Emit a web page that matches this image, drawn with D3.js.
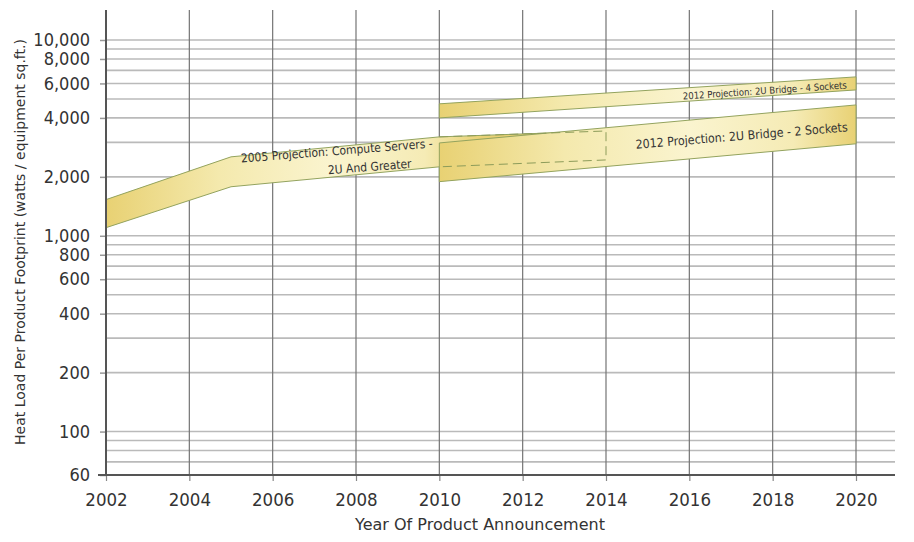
<!DOCTYPE html>
<html>
<head>
<meta charset="utf-8">
<script src="https://cdn.jsdelivr.net/npm/d3@7"></script>
<style>
  html, body { margin: 0; padding: 0; background: #fff; }
  svg { display: block; }
  text { font-family: "DejaVu Sans Condensed", "DejaVu Sans", sans-serif; font-stretch: condensed; fill: #333; }
  text.title { font-family: "DejaVu Sans", sans-serif; font-stretch: normal; }
</style>
</head>
<body>
<svg id="chart" width="914" height="542"></svg>
<script>
// Year tick labels on the x axis
const yearTicks = [2002, 2004, 2006, 2008, 2010, 2012, 2014, 2016, 2018, 2020];
// Labelled heat-load ticks on the log y axis
const loadTicks = [60, 100, 200, 400, 600, 800, 1000, 2000, 4000, 6000, 8000, 10000];

// 2005 projection: compute servers, 2U and greater
const computeYears = [2002, 2005, 2010, 2014];
const computeUpper = [1530, 2530, 3200, 3430];
const computeLower = [1100, 1780, 2250, 2440];

// 2012 projection: 2U bridge, 2 sockets
const bridge2Years = [2010, 2020];
const bridge2Upper = [2980, 4660];
const bridge2Lower = [1890, 2950];

// 2012 projection: 2U bridge, 4 sockets
const bridge4Years = [2010, 2020];
const bridge4Upper = [4720, 6480];
const bridge4Lower = [4000, 5560];

const svg = d3.select("#chart");
const plotLeft = 106, plotRight = 895, plotTop = 10, plotBottom = 475;

const x = d3.scaleLinear().domain([2002, 2020]).range([106, 856]);
const y = d3.scaleLog().domain([60, 10000]).range([475, 40]);

// log grid values: 1..9 times each decade inside the domain
const gridValues = [];
[10, 100, 1000].forEach(dec => {
  for (let m = 1; m <= 9; m++) {
    const v = m * dec;
    if (v >= 60 && v <= 10000) gridValues.push(v);
  }
});
gridValues.push(10000);

const grid = svg.append("g");
grid.selectAll("line.h").data(gridValues).join("line")
  .attr("x1", plotLeft).attr("x2", plotRight)
  .attr("y1", d => y(d)).attr("y2", d => y(d))
  .attr("stroke", "#bababa").attr("stroke-width", 1.6);

grid.selectAll("line.v").data(yearTicks.slice(1)).join("line")
  .attr("x1", d => x(d)).attr("x2", d => x(d))
  .attr("y1", plotTop).attr("y2", plotBottom)
  .attr("stroke", "#747474").attr("stroke-width", 1.2);

// gradients for the band fills
const defs = svg.append("defs");
function bandGradient(id, years) {
  const g = defs.append("linearGradient").attr("id", id)
    .attr("gradientUnits", "userSpaceOnUse")
    .attr("x1", x(years[0])).attr("x2", x(years[years.length - 1]))
    .attr("y1", 0).attr("y2", 0);
  [[0, "#e8d173"], [0.3, "#f4e9ad"], [0.6, "#faf4cf"], [0.85, "#f5ebb5"], [1, "#e8d174"]]
    .forEach(([o, c]) => g.append("stop").attr("offset", o).attr("stop-color", c));
}
bandGradient("gCompute", [2002, 2011]);
bandGradient("gBridge2", bridge2Years);
bandGradient("gBridge4", bridge4Years);

const area = d3.area()
  .x(d => x(d.year)).y0(d => y(d.lo)).y1(d => y(d.hi));

function rows(years, hi, lo) {
  return years.map((yr, i) => ({ year: yr, hi: hi[i], lo: lo[i] }));
}

const computeRows = rows(computeYears, computeUpper, computeLower);
const bridge2Rows = rows(bridge2Years, bridge2Upper, bridge2Lower);
const bridge4Rows = rows(bridge4Years, bridge4Upper, bridge4Lower);

const bands = svg.append("g");
const edge = "#93a35e";

bands.append("path").datum(computeRows)
  .attr("d", area).attr("fill", "url(#gCompute)")
  .attr("stroke", edge).attr("stroke-width", 1);

bands.append("path").datum(bridge2Rows)
  .attr("d", area).attr("fill", "url(#gBridge2)")
  .attr("stroke", edge).attr("stroke-width", 1);

bands.append("path").datum(bridge4Rows)
  .attr("d", area).attr("fill", "url(#gBridge4)")
  .attr("stroke", edge).attr("stroke-width", 1);

// hidden part of the 2005 band, outlined dashed over the 2012 band
const hidden = computeRows.filter(d => d.year >= 2010);
const dashLine = d3.line().x(d => x(d[0])).y(d => y(d[1]));
const hiddenOutline = hidden.map(d => [d.year, d.hi])
  .concat(hidden.slice().reverse().map(d => [d.year, d.lo]));
bands.append("path").datum(hiddenOutline)
  .attr("d", dashLine).attr("fill", "none")
  .attr("stroke", "#8d9c5a").attr("stroke-width", 1)
  .attr("stroke-dasharray", "9,5");

// axes
const yAxis = d3.axisLeft(y).tickValues(loadTicks).tickFormat(d3.format(",")).tickSize(6).tickPadding(10);
const yG = svg.append("g").attr("transform", `translate(${plotLeft},0)`).call(yAxis);
yG.select(".domain").remove();
yG.selectAll(".tick line").attr("stroke", "#999").attr("stroke-width", 1.5);
yG.selectAll(".tick text").attr("font-size", 18).attr("fill", "#333")
  .style("font-family", '"DejaVu Sans Condensed", "DejaVu Sans", sans-serif');

const xAxis = d3.axisBottom(x).tickValues(yearTicks).tickFormat(d3.format("d")).tickSize(6).tickPadding(12);
const xG = svg.append("g").attr("transform", `translate(0,${plotBottom})`).call(xAxis);
xG.select(".domain").remove();
xG.selectAll(".tick line").attr("stroke", "#888").attr("stroke-width", 1.2);
xG.selectAll(".tick text").attr("font-size", 18.5).attr("fill", "#333")
  .style("font-family", '"DejaVu Sans Condensed", "DejaVu Sans", sans-serif');

// axis lines
svg.append("line").attr("x1", plotLeft).attr("x2", plotLeft)
  .attr("y1", plotTop).attr("y2", plotBottom)
  .attr("stroke", "#555").attr("stroke-width", 2);
svg.append("line").attr("x1", plotLeft - 8).attr("x2", plotRight)
  .attr("y1", plotBottom).attr("y2", plotBottom)
  .attr("stroke", "#555").attr("stroke-width", 2.2);

// axis titles
svg.append("text").attr("class", "title")
  .attr("transform", "translate(25,242) rotate(-90)")
  .attr("text-anchor", "middle").attr("font-size", 14)
  .text("Heat Load Per Product Footprint (watts / equipment sq.ft.)");
svg.append("text").attr("class", "title")
  .attr("x", 480).attr("y", 530)
  .attr("text-anchor", "middle").attr("font-size", 16)
  .text("Year Of Product Announcement");

// band labels
function label(txt, cx, cy, angle, size) {
  svg.append("text")
    .attr("transform", `translate(${cx},${cy}) rotate(${angle})`)
    .attr("text-anchor", "middle").attr("font-size", size).attr("fill", "#222")
    .text(txt);
}
label("2005 Projection: Compute Servers -", 337, 155, -4.5, 12);
label("2U And Greater", 370, 171, -4.5, 12);
label("2012 Projection: 2U Bridge - 2 Sockets", 742, 140, -4.7, 12.3);
label("2012 Projection: 2U Bridge - 4 Sockets", 765, 94, -3.9, 9.5);
</script>
</body>
</html>
